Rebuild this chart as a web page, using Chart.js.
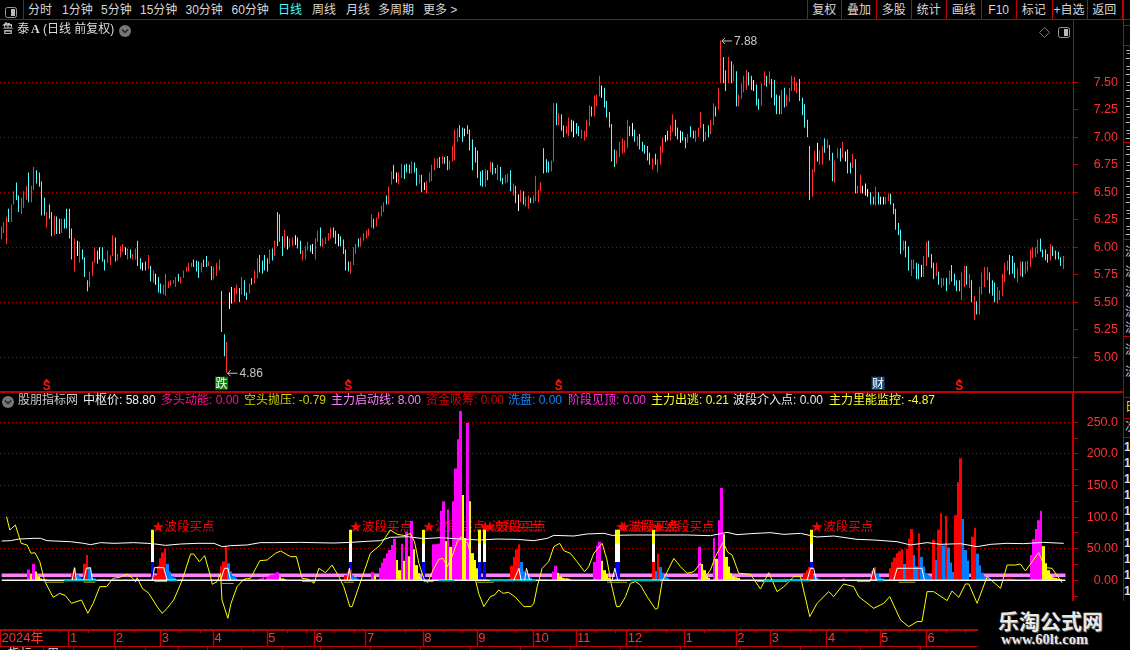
<!DOCTYPE html>
<html><head><meta charset="utf-8">
<style>
html,body{margin:0;padding:0;background:#000;width:1130px;height:650px;overflow:hidden}
body{position:relative;font-family:"Liberation Sans","Noto Sans CJK SC",sans-serif}
canvas{position:absolute;left:0}
.t{position:absolute;white-space:nowrap;line-height:16px;font-size:12px}
.l{position:absolute;background:#c00000}
</style>
<script src="https://cdn.jsdelivr.net/npm/chart.js@4/dist/chart.umd.min.js"></script>
</head><body>
<canvas id="kc" width="1118" height="371" style="top:20px;width:1118px;height:371px"></canvas>
<canvas id="ic" width="1118" height="254" style="top:392px;width:1118px;height:254px"></canvas>
<div id="ui"></div>
<script>
// ---------- price panel data ----------
const highs=[
6.19,6.23,6.28,6.35,6.39,6.51,6.59,6.47,6.45,6.51,
6.56,6.68,6.56,6.73,6.70,6.68,6.60,6.45,6.32,6.39,
6.32,6.29,6.28,6.26,6.26,6.26,6.35,6.35,6.17,6.08,
6.06,6.05,5.98,5.91,5.70,5.78,5.87,6.00,5.97,6.00,
6.00,5.89,5.97,5.93,6.11,6.09,5.94,6.01,6.03,6.00,
5.99,5.98,5.94,5.99,6.06,5.90,5.86,5.87,5.93,5.83,
5.79,5.76,5.73,5.67,5.66,5.76,5.69,5.70,5.70,5.73,
5.76,5.73,5.79,5.82,5.86,5.86,5.89,5.88,5.87,5.86,
5.89,5.92,5.87,5.83,5.82,5.86,5.89,5.60,5.21,5.14,
5.59,5.64,5.63,5.66,5.63,5.73,5.70,5.59,5.67,5.72,
5.79,5.90,5.93,5.88,5.93,5.90,5.98,5.99,6.06,6.32,
6.30,6.10,6.16,6.10,6.08,6.09,6.11,6.09,6.06,5.97,
6.01,6.05,6.02,6.03,6.08,6.15,6.18,6.08,6.09,6.13,
6.18,6.18,6.15,6.12,6.10,6.07,5.98,5.87,5.87,6.00,
6.03,6.08,6.09,6.13,6.15,6.17,6.30,6.26,6.27,6.32,
6.38,6.41,6.47,6.55,6.69,6.75,6.68,6.68,6.76,6.75,
6.76,6.75,6.78,6.77,6.72,6.66,6.66,6.59,6.60,6.68,
6.75,6.81,6.81,6.82,6.83,6.82,6.83,6.79,6.92,7.07,
7.08,7.11,7.09,7.08,7.11,7.07,6.98,6.91,6.88,6.69,
6.70,6.71,6.70,6.78,6.77,6.72,6.75,6.73,6.63,6.66,
6.67,6.70,6.58,6.56,6.48,6.52,6.51,6.46,6.47,6.45,
6.47,6.65,6.52,6.59,6.90,6.80,6.78,6.79,7.31,7.31,
7.22,
7.21,7.11,7.10,7.18,7.16,7.15,7.13,7.10,7.07,7.06,
7.16,7.29,7.28,7.38,7.39,7.56,7.47,7.45,7.33,7.23,
7.12,6.89,6.88,6.96,6.99,6.97,7.16,7.10,7.13,7.07,
7.01,7.03,6.96,6.93,6.92,6.86,6.81,6.85,6.80,6.92,
7.00,7.02,7.06,7.11,7.21,7.16,7.09,7.06,7.05,7.00,
7.03,7.10,7.06,7.06,7.09,7.23,7.12,7.05,7.11,7.16,
7.31,7.28,7.45,7.88,7.73,7.61,7.73,7.69,7.66,7.60,
7.39,7.49,7.56,7.61,7.59,7.56,7.52,7.48,7.35,7.49,
7.60,7.56,7.60,7.53,7.52,7.39,7.38,7.43,7.45,7.39,
7.45,7.56,7.55,7.50,7.53,7.36,7.30,7.16,
6.92,6.71,6.88,6.95,6.88,6.92,6.99,6.98,6.93,6.86,
6.79,6.90,6.90,6.96,6.87,6.89,6.77,6.85,6.80,6.56,
6.66,6.56,6.58,6.53,6.50,6.46,6.55,6.50,6.46,6.46,
6.46,6.49,6.49,6.40,6.35,6.22,6.16,6.06,6.06,6.01,
5.89,5.89,5.86,5.85,5.84,5.92,6.05,6.06,5.94,5.86,
5.86,5.78,5.72,5.72,5.72,5.79,5.84,5.76,5.70,5.70,
5.77,5.83,5.83,5.76,5.70,5.56,5.51,5.64,5.77,5.82,
5.82,5.77,5.70,5.68,5.64,5.61,5.76,5.86,5.88,5.93,
5.92,5.86,5.81,5.87,5.87,5.87,5.88,5.98,6.00,6.00,
6.07,6.08,5.98,5.98,5.94,6.03,6.01,5.97,5.96,5.91,
5.92];
const lows=[
6.07,6.13,6.03,6.23,6.23,6.39,6.43,6.32,6.30,6.36,
6.43,6.41,6.41,6.52,6.58,6.55,6.29,6.29,6.18,6.26,
6.10,6.11,6.12,6.12,6.13,6.17,6.17,6.08,5.89,5.78,
5.92,5.86,5.89,5.73,5.60,5.64,5.74,5.86,5.85,5.89,
5.87,5.79,5.86,5.84,5.92,5.87,5.88,5.91,5.96,5.93,
5.89,5.90,5.89,5.89,5.83,5.80,5.79,5.79,5.80,5.69,
5.68,5.66,5.59,5.58,5.57,5.56,5.63,5.65,5.67,5.64,
5.69,5.67,5.72,5.78,5.78,5.82,5.82,5.78,5.72,5.77,
5.82,5.82,5.83,5.70,5.71,5.74,5.79,5.23,5.01,4.86,
5.44,5.49,5.50,5.57,5.50,5.57,5.56,5.52,5.58,5.66,
5.67,5.72,5.77,5.76,5.79,5.78,5.85,5.88,5.92,6.01,
6.05,5.92,6.00,5.98,6.00,6.01,6.02,5.99,5.94,5.88,
5.89,5.97,5.96,5.94,5.89,6.05,6.01,6.00,6.03,6.06,
6.08,6.09,6.03,6.01,6.01,5.94,5.79,5.78,5.76,5.84,
5.94,6.00,6.01,6.06,6.08,6.10,6.18,6.17,6.19,6.26,
6.28,6.32,6.39,6.39,6.57,6.62,6.59,6.57,6.63,6.62,
6.68,6.67,6.67,6.68,6.56,6.58,6.50,6.52,6.49,6.59,
6.60,6.70,6.72,6.72,6.76,6.76,6.70,6.71,6.78,6.79,
6.96,7.00,6.96,7.01,7.03,6.88,6.70,6.77,6.63,6.56,
6.55,6.55,6.61,6.68,6.66,6.67,6.61,6.60,6.57,6.58,
6.59,6.51,6.47,6.40,6.33,6.41,6.39,6.37,6.35,6.40,
6.40,6.42,6.41,6.51,6.67,6.68,6.68,6.69,6.78,7.11,
7.11,
7.06,7.00,7.03,7.01,7.05,7.00,7.03,7.01,6.99,6.97,
7.00,7.10,7.19,7.19,7.28,7.37,7.36,7.27,7.18,7.09,
6.78,6.73,6.76,6.82,6.85,6.86,6.90,7.01,7.01,6.96,
6.92,6.89,6.87,6.85,6.79,6.75,6.71,6.75,6.68,6.75,
6.86,6.96,6.97,6.97,7.05,7.01,6.98,6.95,6.97,6.90,
6.95,7.00,6.99,6.96,7.00,7.08,6.96,6.97,7.00,7.03,
7.11,7.19,7.25,7.49,7.49,7.42,7.49,7.49,7.51,7.28,
7.28,7.35,7.41,7.43,7.47,7.43,7.42,7.29,7.25,7.29,
7.47,7.46,7.48,7.36,7.29,7.21,7.21,7.21,7.27,7.28,
7.32,7.42,7.42,7.40,7.33,7.20,7.09,7.00,
6.43,6.46,6.68,6.78,6.75,6.75,6.86,6.90,6.79,6.60,
6.59,6.81,6.78,6.81,6.78,6.67,6.67,6.72,6.49,6.49,
6.49,6.49,6.47,6.46,6.39,6.39,6.38,6.39,6.39,6.39,
6.39,6.42,6.39,6.30,6.16,6.11,5.94,5.97,5.91,5.79,
5.74,5.80,5.71,5.71,5.73,5.73,5.83,5.91,5.81,5.71,
5.74,5.66,5.63,5.65,5.60,5.66,5.69,5.65,5.60,5.60,
5.52,5.64,5.66,5.63,5.50,5.34,5.39,5.39,5.57,5.64,
5.70,5.58,5.56,5.50,5.49,5.52,5.56,5.68,5.79,5.75,
5.76,5.72,5.68,5.74,5.73,5.76,5.78,5.82,5.90,5.91,
5.94,5.96,5.91,5.88,5.86,5.88,5.92,5.89,5.89,5.83,
5.80];
const kinds=[
"rrrcrrccrr","rcrrcccc"+"rc","crccrcccc"+"r","wrcccrrrcw","ccrrrcrrrw","rcrrccwcrc","rwccrrrrrr","crrrrrcccr","ccrcrrrccr","wwrrcrccrc","rrccccrcrc",
"ccrwrrwccr","rrcwrrcrrr","rccwccccrr","rcrrrrrcrr","rrcrrcwrrc","ccrccrcwrr","rrrcrccrrr","rccwcccccc","crcrccrccr","rcrcwrcrrc","rrrrcccrrc","r",
"ccrrcwccrr","rrcrrrwccc","ccrrrrrcwc","rcccccrcrr","rwcrrccwcc","rccrrrcrcr","rcrrccrcrc","rrrrccwccr","rcrcccc"+"rcr","rrrrcccc",
"crrwrrcrcc","rrcrwccrcr","rwwwccrcww","rrcccccrcc","rrccwrrccc","rcrrcrccc"+"c","rrcrcrcrrr","rcccrrrrrc","ccrrcrrrrr","rccccrcccc","r"
].join("");
const priceTicks=[7.5,7.25,7,6.75,6.5,6.25,6,5.75,5.5,5.25,5];
const priceGrid=[7.5,7,6.5,6,5.5,5];
const sMarkDays=[18,137,220,378];
const newsMarks=[["跌",87,"#0a7a0a"],["财",346,"#1d4f7f"]];

// ---------- indicator panel data (day, value) ----------
const magentaBars=[[11,17],[13,26],[106,3],[107,5],[109,6],[110,8],[111,9],[112,11],[113,13],[152,13],[155,20],[156,28],[157,35],[158,43],[159,48],[160,56],[161,66],[164,58],[166,77],[168,94],[177,57],[178,57],[179,58],[180,110],[181,125],[183,112],[185,125],[186,177],[187,223],[188,268],[191,249],[226,14],[227,23],[243,29],[244,55],[245,61],[286,53],[292,67],[294,95],[295,146],[345,3],[422,40],[423,65],[424,81],[425,95],[426,110]];
const yellowBars=[[12,9.5],[14,14],[15,6],[16,3],[17,2],[18,1.5],[114,5],[115,3],[116,2],[153,7],[162,32],[163,16],[165,31],[167,38],[169,49],[170,24],[171,11],[172,5],[182,62],[184,53],[189,135],[190,67],[192,125],[193,43],[194,32],[195,19],[228,12],[229,6],[230,4],[231,3],[232,3],[233,2],[246,31],[247,16],[248,10],[249,4],[287,26],[288,16],[289,6],[290,4],[293,34],[296,73],[297,37],[298,22],[299,11],[300,6],[301,5],[302,4],[427,54],[428,27],[429,16],[430,9],[431,5],[432,4],[433,3],[434,2]];
const redBars=[[29,12],[30,20],[34,26],[35,40],[41,2],[42,2],[63,8],[64,23],[65,35],[66,44],[67,50],[90,23],[91,30],[92,54],[141,8],[142,14],[143,17],[209,23],[210,37],[211,49],[212,57],[221,2],[222,2],[223,2],[267,29],[269,42],[328,4],[329,10],[330,16],[331,21],[332,21],[357,15],[358,21],[364,19],[365,29],[366,36],[367,43],[368,46],[369,49],[371,50],[372,66],[373,81],[376,74],[382,64],[384,80],[385,106],[387,102],[391,103],[392,155],[393,193],[398,69],[399,83],[412,3],[413,3],[414,2],[415,2]];
const blueBars=[[31,9],[32,6],[33,3],[36,20],[37,6],[38,3],[68,26],[69,14],[70,7],[71,4],[93,27],[94,14],[95,7],[96,4],[144,8],[145,5],[146,3],[213,29],[214,14],[215,9],[216,6],[217,4],[268,15],[270,21],[271,12],[272,6],[273,4],[333,8],[334,5],[335,3],[359,10],[360,5],[361,3],[370,26],[374,40],[375,22],[377,37],[378,22],[379,11],[380,8],[381,6],[383,32],[386,55],[388,52],[389,28],[390,13],[394,97],[395,48],[396,31],[400,42],[401,24],[402,12],[403,6],[404,4],[405,3]];
const buyDays=[62,143,173,196,198,252,253,267,332];
const buyBlueDays=[62,143,173,196,198,252,253,332];
const buyTop=80, buyMid=58, buyLow=29, buyLabelLevel=86;
const buyLabel="★波段买点";
const centerLine=[[0,62.2],[3.6,62.7],[7,65.3],[13.2,66.4],[15.9,66.4],[18.6,62.7],[28.2,61.1],[33.6,58.5],[36.4,56.4],[40.5,59.6],[46,58.5],[54.1,59.6],[59.6,58.5],[63,57.4],[67.1,55.3],[73.3,57.4],[80.1,58.5],[87,58.5],[90.4,53.2],[93.8,54.8],[100.6,55.9],[106,59.6],[111.5,59.6],[122.5,60],[136.1,59],[143,60],[149.8,61.7],[155.2,62.7],[159.3,68],[166.2,69],[173,65.9],[179.8,67.5],[188,65.3],[196.2,63.8],[203,65.3],[211.3,64.8],[218.1,62.7],[223.6,66.4],[226.3,71.1],[234.5,70.1],[240,73.3],[246.8,74.3],[250.2,71.1],[259.1,71.7],[270,71.7],[281,71.7],[290.5,70.6],[297.3,75.9],[301.4,72.2],[306.9,73.8],[315,75.4],[320.6,72.7],[327.4,74.3],[334.2,68.5],[341,70.1],[350.6,64.8],[357.4,63.8],[367,61.1],[372.5,55.9],[379.3,59.6],[384.8,56.9],[393,58],[399.8,53.2],[405.3,56.9],[412,58.5],[418.9,58],[427,60],[435.3,58.5]];
const energyLine=[[2,100.7],[3.3,79.6],[5.6,87.5],[8,58.5],[10.4,55.9],[12,42.7],[13.6,43.7],[15.6,29.5],[17.7,-2.1],[21.1,-26.9],[23.8,-20.6],[26.1,-24.2],[28.6,-36.4],[32.7,-31.1],[35.3,-52.2],[37.5,-36.4],[40.2,-10],[43,-10],[45.7,3.2],[48.4,4.7],[51.4,9.5],[53.5,4.2],[54.8,-2.1],[55.5,4.2],[57.6,-12.6],[60.3,-20.6],[63.7,-41.6],[65.8,-52.2],[67.8,-44.3],[70.5,-31.1],[74,0.5],[77.4,41.6],[78.7,41.6],[81,29.5],[83.2,39],[85.6,5.8],[86.3,-6.3],[88.3,-2.1],[89.7,11.1],[90.3,-31.1],[92.7,-60.1],[94,-36.4],[96.5,-10],[99.2,1.6],[102,3.2],[105.8,31.1],[108.8,32.1],[112.2,42.7],[114.3,46.4],[118.4,37.4],[120.8,37.4],[123.1,3.2],[125.9,1.6],[128,-4.7],[130,19],[132.7,12.1],[135.4,24.2],[138.2,5.8],[140.2,-10],[142.7,-41.6],[143.6,-41.6],[146.4,-10],[151.1,42.7],[155.2,55.9],[159.3,79.6],[162.1,72.7],[165.5,70.6],[167.5,74.3],[169.2,61.1],[171,26.9],[173,3.2],[174.6,-3.7],[176.8,16.3],[179.2,33.2],[180.8,34.8],[182.6,21.6],[184.6,37.4],[186.7,61.1],[188.3,69],[191,58.5],[192.8,32.1],[194.2,0.5],[195.5,-20.6],[197.6,-41.6],[200.3,-25.8],[202,-23.2],[203.7,-15.3],[205.5,-20.6],[207.8,-19],[210.6,-26.9],[214,-41.6],[217,-41.6],[218.1,-36.4],[219.5,-10],[221.5,19],[224.2,29.5],[226.3,53.2],[228.7,58.5],[230.4,46.9],[233.1,42.7],[235.8,29.5],[238.9,13.7],[240.6,21.6],[242.7,42.7],[246.1,58.5],[248.1,32.1],[249.8,-4.7],[252,-41.6],[253.3,-41.6],[255.7,-25.8],[257.7,-4.7],[259.8,-2.1],[261.8,-7.4],[264.5,-25.8],[268,-45.8],[268.9,-44.3],[270.7,-2.1],[272.1,8.4],[275.5,34.8],[278.2,21.6],[280.9,11.1],[283.7,13.7],[286.4,26.9],[288.4,5.8],[290.5,16.3],[292.5,37.4],[295.7,60.1],[297.6,44.3],[299.4,40],[302.1,11.1],[306.9,9.5],[311,-13.7],[314.4,12.1],[317.8,-17.9],[320.6,-10],[324.7,5.8],[327.4,5.8],[331.2,-57.4],[334.2,-36.4],[339,-17.9],[341,-25.8],[345.1,-5.8],[349.2,-10],[351.3,-25.8],[357.4,-44.3],[361.5,-36.4],[364,-25.8],[368.4,-62.7],[371.8,-73.3],[375.2,-65.3],[377.2,-65.3],[379.3,-17.9],[382,-17.9],[387.5,-32.1],[389.5,-16.9],[392.3,-26.9],[395,-5.8],[396.4,-5.8],[399.8,-36.4],[403.9,5.8],[409.4,-12.6],[412.1,24.2],[415.5,24.2],[417.5,25.8],[419.6,14.8],[425,43.7],[427.8,20],[430.5,19],[434.6,-3.7]];
const outlineLine=[[28.9,0],[29.8,20],[30.6,0],[33.6,null],[33.6,0],[34.7,19],[36.4,20],[37.2,0],[50,null],[61.8,0],[62.6,20],[66.4,20],[67.8,0],[80,null],[89.7,0],[91.3,19],[92.7,19],[93.8,0],[120,null],[141.6,0],[142.5,19],[143.2,0],[200,null],[209.9,0],[212,19],[212.9,0],[214.3,0],[215.1,19],[216.4,0],[240,null],[250.2,0],[251.3,19],[252.5,0],[300,null],[330.1,0],[331.5,19],[332.8,19],[333.9,0],[345,null],[356.1,0],[357.4,19],[358.5,0],[362,null],[365.6,0],[367,19],[377.2,19],[378.2,0]];
const oliveLine=[[18,-3],[25.5,-3],[30,null],[33.6,-3],[38.4,-3],[50,null],[62.6,-2],[67.8,-2],[80,null],[89.7,-5],[95.1,-5],[110,null],[123.1,-2],[128.6,-2],[135,null],[140.2,-3],[144.3,-3],[160,null],[173,-2],[177,-2],[185,null],[194.9,-3],[201.7,-3],[220,null],[248.1,-3],[256.3,-3],[290,null],[309.6,-2],[321.9,-2],[340,null],[350.6,-2],[356,-2],[360,null],[367.6,-3],[374.5,-3]];
const cyanLine=[[25.5,-.5],[39,-.5],[50,null],[67.8,-.5],[72,-.5],[100,null],[179,-.5],[185.6,-.5],[190,null],[200,-.5],[219,-.5],[230,null],[257.7,-.5],[270,-.5],[300,null],[312.4,-.5],[331.5,-.5],[340,null],[358.8,-.5],[361.5,-.5]];
const startLineLevel=8, lastDay=436;
const indTicks=[250,225,200,175,150,125,100,75,50,25,0,-25];
const indGrid=[250,200,150,100,50];
const monthDays=[-0.5,27.5,46.4,65.2,86.8,108.8,128.2,149.3,172.7,194.9,217.8,235.4,256.2,279.8,301,315.2,338.2,360,379,408];
const monthLabels=["2024年","1","2","3","4","5","6","7","8","9","10","11","12","1","2","3","4","5","6",""];

// ---------- shared helpers ----------
const RED="#ff3232", LINE="#c00000", NUMF={family:"'Liberation Sans','Noto Sans CJK SC'",size:12.5};
const pts=a=>a.map(p=>({x:p[0],y:p[1]}));
const bars=(a,c,o,half)=>({type:"bar",data:pts(a),backgroundColor:c,order:o,barThickness:3,grouped:false,inflateAmount:0,half:half||1.25});
const lines=(a,c,w,o)=>({type:"line",data:pts(a),borderColor:c,borderWidth:w,pointRadius:0,order:o,tension:0,spanGaps:false,fill:false});
const snap={id:"snap",beforeDatasetsDraw(c){
  c.data.datasets.forEach((d,k)=>{ if(d.type==="line")return;
    c.getDatasetMeta(k).data.forEach((el,j)=>{
      const x=c.scales.x.getPixelForValue(d.data[j].x);
      if(d.half===.5){el.x=Math.floor(x)+.5;el.width=1;}
      else{const l=Math.round(x-d.half),r=Math.round(x+d.half);el.x=(l+r)/2;el.width=r-l;}
    });
  });
}};
const yAxis=(min,max,ticks,grid,fmt,bw)=>({position:"right",min,max,
  afterBuildTicks:s=>{s.ticks=ticks.map(v=>({value:v}));},
  afterFit:s=>{s.width=45;s.paddingTop=0;s.paddingBottom=0;},
  border:{color:LINE,width:bw,dash:[1,3]},
  grid:{color:c=>grid.includes(c.tick.value)?"#b00000":"rgba(0,0,0,0)",tickColor:LINE,tickLength:5,tickBorderDash:[],lineWidth:1},
  ticks:{color:RED,font:NUMF,autoSkip:false,crossAlign:"far",padding:0,callback:fmt}});
const base=(plugins)=>({responsive:false,animation:false,events:[],layout:{padding:0},plugins:{legend:{display:false},tooltip:{enabled:false}}});

// ---------- price chart ----------
const colorOf={r:"#ff3232",c:"#54ffff",w:"#ffffff"};
const candleData=highs.map((h,i)=>({x:i,y:[lows[i],h]}));
const hiIdx=highs.indexOf(Math.max(...highs)), loIdx=lows.indexOf(Math.min(...lows));
const kAnno={id:"kAnno",afterDatasetsDraw(c){
  const {ctx,scales:{x,y}}=c; ctx.save();
  [[loIdx,lows[loIdx]],[hiIdx,highs[hiIdx]]].forEach(([i,p])=>{
    const px=x.getPixelForValue(i),py=y.getPixelForValue(p);
    ctx.strokeStyle="#c8c8c8";ctx.fillStyle="#c8c8c8";ctx.lineWidth=1;
    ctx.beginPath();ctx.moveTo(px+1,py+.5);ctx.lineTo(px+11,py+.5);ctx.moveTo(px+4,py-2.5);ctx.lineTo(px+1,py+.5);ctx.lineTo(px+4,py+3.5);ctx.stroke();
    ctx.font="12px 'Liberation Sans'";ctx.textBaseline="middle";ctx.textAlign="left";
    ctx.fillText(p.toFixed(2),px+13,py+1);
  });
  sMarkDays.forEach(i=>{
    const px=x.getPixelForValue(i),py=y.getPixelForValue(4.75);
    ctx.fillStyle="#ff1010";ctx.font="bold 12px 'Liberation Sans'";ctx.textAlign="center";ctx.textBaseline="middle";
    ctx.fillText("S",px,py+2);
    ctx.beginPath();ctx.moveTo(px,py-6);ctx.lineTo(px+3,py-3);ctx.lineTo(px-3,py-3);ctx.fill();
  });
  newsMarks.forEach(([s,i,col])=>{
    const px=x.getPixelForValue(i),py=y.getPixelForValue(4.765);
    ctx.fillStyle=col;ctx.fillRect(px-6.5,py-6.5,13,13);
    ctx.fillStyle="#fff";ctx.font="12px 'Noto Sans CJK SC'";ctx.textAlign="center";ctx.textBaseline="middle";
    ctx.fillText(s,px,py);
  });
  ctx.restore();
}};
new Chart(document.getElementById("kc"),{type:"bar",
  data:{datasets:[{type:"bar",data:candleData,backgroundColor:candleData.map((d,i)=>colorOf[kinds[i]]||"#54ffff"),barThickness:1,grouped:false,inflateAmount:0,half:.5}]},
  options:Object.assign(base(),{scales:{
    x:{type:"linear",display:false,offset:false,grid:{offset:false},min:-0.4,max:422.9},
    y:yAxis(4.694,8.066,priceTicks,priceGrid,v=>v.toFixed(2),1)}}),
  plugins:[snap,kAnno]});

// ---------- indicator chart ----------
const labelsPlugin={id:"buyLabels",beforeDatasetsDraw(c){
  const {ctx,scales:{x,y}}=c;ctx.save();ctx.fillStyle="#ff0000";ctx.font="12.5px 'Noto Sans CJK SC'";ctx.textBaseline="middle";ctx.textAlign="left";
  buyDays.forEach(i=>ctx.fillText(buyLabel,x.getPixelForValue(i)-1,y.getPixelForValue(buyLabelLevel)));
  ctx.restore();
}};
const weekTicks={id:"weekTicks",afterDraw(c){
  const {ctx,scales:{x}}=c,top=c.chartArea.bottom;ctx.save();ctx.fillStyle=LINE;
  for(let m=0;m<monthDays.length-1;m++){for(let d=monthDays[m]+8;d<monthDays[m+1]-3;d+=8){
    ctx.fillRect(Math.round(x.getPixelForValue(d)),top,1,3);}}
  ctx.restore();
}};
const col=(days,v)=>days.map(d=>[d,v]);
new Chart(document.getElementById("ic"),{type:"bar",
  data:{datasets:[
    lines([[0,startLineLevel],[lastDay,startLineLevel]],"#ff80ff",3.5,100),
    bars(magentaBars,"#ff00ff",80),
    bars(yellowBars,"#ffff00",80),
    bars(blueBars,"#0080ff",79),
    bars(redBars,"#ff0000",78),
    bars(col(buyDays,buyTop),"#ffff00",77,1.5),
    bars(col(buyDays,buyMid),"#ffffff",76,1.5),
    bars(col(buyBlueDays,buyLow),"#0000f0",75,1.5),
    bars(redBars.filter(r=>buyDays.includes(r[0])),"#ff0000",74,1.5),
    lines(centerLine,"#ffffff",1,50),
    lines(energyLine,"#ffff00",1,40),
    lines(outlineLine,"#ffffff",1,30),
    lines([[0,0],[lastDay,0]],"#ffffff",1.6,20),
    lines(oliveLine,"#b0b000",1,15),
    lines(cyanLine,"#00c8c8",1.4,10)
  ]},
  options:Object.assign(base(),{scales:{
    x:{type:"linear",position:"bottom",offset:false,min:-0.7,max:439.1,
      afterBuildTicks:s=>{s.ticks=monthDays.map(v=>({value:v}));},
      afterFit:s=>{s.height=16;s.paddingLeft=0;s.paddingRight=0;},
      border:{color:LINE,width:2},
      grid:{offset:false,drawOnChartArea:false,tickColor:LINE,tickLength:16,tickWidth:1.5},
      ticks:{color:RED,font:{family:"'Liberation Sans','Noto Sans CJK SC'",size:13},autoSkip:false,maxRotation:0,align:"start",padding:-15,
        callback:(v,i)=>"\u200a"+monthLabels[i]}},
    y:yAxis(-78.6,297.9,indTicks,indGrid,v=>v%50!==0||v<0?"":(v>=100?v.toFixed(1):v.toFixed(2)),2)}}),
  plugins:[snap,labelsPlugin,weekTicks]});

// ---------- screen furniture ----------
const ui=document.getElementById("ui");
function t(x,yc,s,c,extra){const d=document.createElement("div");d.className="t";d.textContent=s;d.style.left=x+"px";d.style.top=(yc-8)+"px";d.style.color=c||"#ddd";if(extra)Object.assign(d.style,extra);ui.appendChild(d);return d;}
function l(x,y,w,h,c){const d=document.createElement("div");d.className="l";d.style.cssText+=`left:${x}px;top:${y}px;width:${w}px;height:${h}px;`+(c?`background:${c};`:"");ui.appendChild(d);}
l(0,19,1130,1);l(23,0,1,19);l(0,391,1123,2);l(1123,0,1,601);
[[28,"分时"],[62,"1分钟"],[101,"5分钟"],[140,"15分钟"],[185.5,"30分钟"],[231.5,"60分钟"],[312,"周线"],[346,"月线"],[378,"多周期"],[423,"更多 >"]].forEach(a=>t(a[0],9.5,a[1],"#d8d8d8"));
t(278,9.5,"日线","#40ffff");
const seps=[807,841.4,876.4,911.2,946.3,981.2,1016.2,1051.5,1086.5,1121.8];
seps.forEach(x=>l(Math.round(x),0,1,19));
["复权","叠加","多股","统计","画线","F10","标记","+自选","返回"].forEach((s,i)=>{const d=t(seps[i],9.5,s,"#d8d8d8");d.style.width=(seps[i+1]-seps[i])+"px";d.style.textAlign="center";});
t(2,29,"鲁 泰","#dcdcdc");t(31,29,"A","#dcdcdc",{fontFamily:"'Liberation Serif'",fontWeight:"bold"});t(43,29,"(日线 前复权)","#dcdcdc");
function svg(x,y,w,h,inner){const d=document.createElement("div");d.style.cssText=`position:absolute;left:${x}px;top:${y}px;width:${w}px;height:${h}px`;d.innerHTML=`<svg width="${w}" height="${h}" xmlns="http://www.w3.org/2000/svg">${inner}</svg>`;ui.appendChild(d);}
const chev='<circle cx="6" cy="6" r="6" fill="#777"/><path d="M3 4.5 L6 7.5 L9 4.5" stroke="#222" stroke-width="1.5" fill="none"/>';
svg(119,23,12,12,chev);svg(2,394,12,12,chev);
const box='<rect x=".5" y=".5" width="11" height="10" rx="2" fill="none" stroke="#999"/><rect x="6" y="2" width="4" height="7" fill="#bbb"/>';
svg(5,4,12,11,box);svg(1058,24,12,11,box);
svg(1039,24,11,11,'<path d="M5.5 .5 L10.5 5.5 L5.5 10.5 L.5 5.5 Z" fill="none" stroke="#777"/>');
[[18,"股朋指标网","#c8c8c8"],[83,"中枢价: 58.80","#f0f0f0"],[161,"多头动能: 0.00","#ff1090"],[244,"空头抛压: -0.79","#d0d000"],[331,"主力启动线: 8.00","#ff80ff"],[426,"资金吸筹: 0.00","#e00000"],[508,"洗盘: 0.00","#1088ff"],[568,"阶段见顶: 0.00","#ff30e0"],[651,"主力出逃: 0.21","#ffff20"],[733,"波段介入点: 0.00","#e8e8e8"],[829,"主力里能监控: -4.87","#ffff20"]].forEach(a=>t(a[0],400,a[1],a[2]));
// right side list, clipped at the window edge
[25,45,142,239,336,397,418,437].forEach(y=>l(1124,y,6,1));
for(let y=54;y<235;y+=16)t(1125,y,"主力","#bbb");
[252,272,292,312,328,350,372].forEach(y=>t(1125,y,"流入","#ccc"));
t(1125,407,"日","#e0e000");t(1125,427,"次","#ccc");
for(let y=447;y<600;y+=16)t(1124,y,"1","#ddd",{fontWeight:"bold"});
// time strip lower edge and next row
l(0,646,978,1);
[43,73,115,145,178,207,241,282,320,370,420,470,520,570,620,680,740,800,860,920].forEach(x=>l(x,646,1,4));
t(8,654,"指标","#ddd");t(47,654,"周","#ddd");
// watermark
const wm=document.createElement("div");wm.style.cssText="position:absolute;left:978px;top:601px;width:152px;height:49px;background:#000";ui.appendChild(wm);
const w1=t(998,620,"乐淘公式网","#e8e8e8",{fontFamily:"'Noto Sans CJK SC'",fontSize:"21px",fontWeight:"bold",lineHeight:"22px",textShadow:"1px 1px 0 #555"});w1.style.top="609px";
const w2=t(1001,639,"www.60lt.com","#e8e8e8",{fontFamily:"'Liberation Serif'",fontSize:"14.5px",fontWeight:"bold",textShadow:"1px 1px 0 #555"});
</script>
</body></html>
